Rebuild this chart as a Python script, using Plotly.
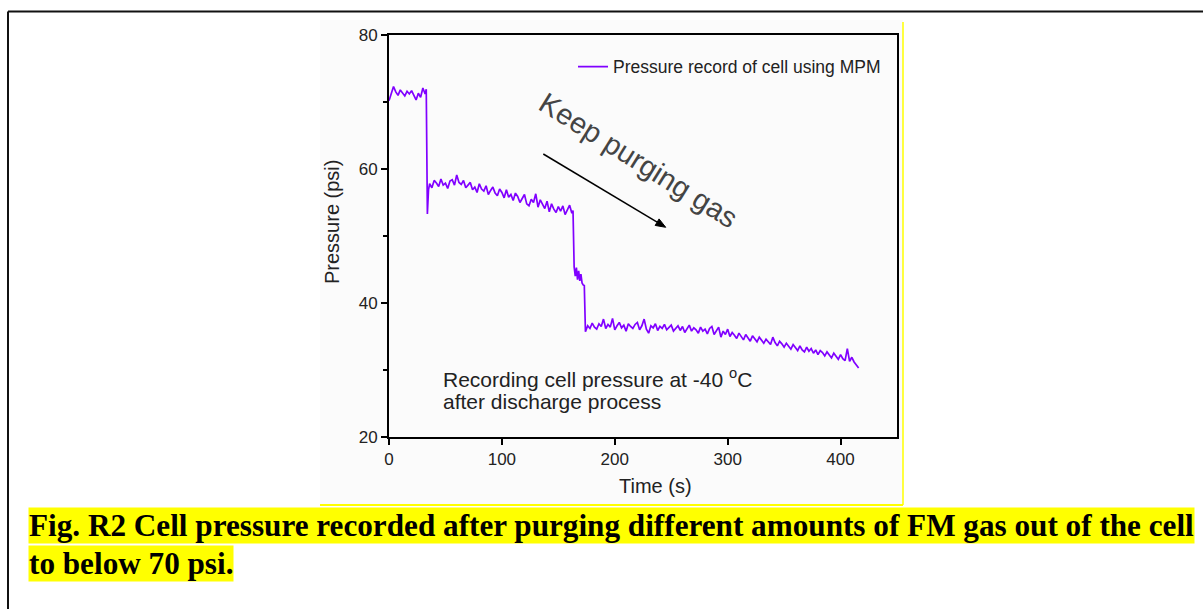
import math
import plotly.graph_objects as go

# ---------------- data ----------------
series_name = "Pressure record of cell using MPM"

# stage 1: before the first purge
s1_time = [0, 2, 4, 6, 8, 10, 12, 14, 16, 18, 20, 22, 24, 26, 28, 30, 32, 33]
s1_pres = [70.2, 71.3, 72.3, 71.5, 71.0, 71.8, 71.4, 70.9, 71.6, 71.2,
           71.7, 71.0, 70.3, 71.3, 70.7, 72.1, 71.2, 71.9]

# stage 2: after the first purge
s2_time = [34, 35, 36, 38, 40, 42, 44, 46, 48, 50,
           52, 54, 56, 58, 60, 62, 64, 66, 68, 70,
           72, 74, 76, 78, 80, 82, 84, 86, 88, 90,
           92, 94, 96, 98, 100, 102, 104, 106, 108, 110,
           112, 114, 116, 118, 120, 122, 124, 126, 128, 130,
           132, 134, 136, 138, 140, 142, 144, 146, 148, 150,
           152, 154, 156, 158, 160, 162, 163]
s2_pres = [53.3, 56.9, 57.8, 57.2, 58.3, 57.9, 57.4, 58.5, 57.6, 57.9,
           57.1, 58.2, 58.4, 57.6, 59.1, 58.0, 57.7, 58.3, 57.2, 57.6,
           58.0, 56.9, 57.3, 56.5, 57.8, 57.0, 56.7, 57.5, 56.2, 56.8,
           57.3, 56.4, 56.0, 57.0, 56.5, 55.7, 56.9, 55.8, 56.2, 55.3,
           56.4, 55.9, 55.0, 55.6, 56.2, 54.8, 54.5, 55.5, 55.0, 56.3,
           54.3, 55.4, 54.7, 54.1, 55.2, 53.6, 54.8, 54.0, 53.5, 54.4,
           53.7, 54.5, 53.2, 53.9, 54.6, 53.4, 53.8]

# short intermediate step during the second purge
sm_time = [164, 165, 166, 167, 168, 169, 170, 171, 172, 173]
sm_pres = [45.4, 44.0, 45.3, 43.5, 44.8, 43.3, 44.3, 43.0, 42.7, 42.6]

# stage 3: after the second purge
s3_time = [174, 175, 176, 178, 180, 182, 184, 186, 188, 190,
           192, 194, 196, 198, 200, 202, 204, 206, 208, 210,
           212, 214, 216, 218, 220, 222, 224, 226, 228, 230,
           232, 234, 236, 238, 240, 242, 244, 246, 248, 250,
           252, 254, 256, 258, 260, 262, 264, 266, 268, 270,
           272, 274, 276, 278, 280, 282, 284, 286, 288, 290,
           292, 294, 296, 298, 300, 302, 304, 306, 308, 310,
           312, 314, 316, 318, 320, 322, 324, 326, 328, 330,
           332, 334, 336, 338, 340, 342, 344, 346, 348, 350,
           352, 354, 356, 358, 360, 362, 364, 366, 368, 370,
           372, 374, 376, 378, 380, 382, 384, 386, 388, 390,
           392, 394, 396, 398, 400, 402, 404, 406, 408, 410,
           412, 414, 416]
s3_pres = [35.7, 36.3, 36.6, 36.2, 37.0, 36.4, 36.1, 36.9, 36.5, 37.6,
           36.2, 36.8, 36.4, 37.7, 36.0, 36.6, 37.1, 36.3, 36.7, 35.8,
           36.9, 36.5, 36.2, 36.8, 37.1, 36.0, 36.6, 37.6, 36.1, 35.5,
           36.6, 36.3, 36.9, 35.9, 36.5, 36.2, 36.8, 36.0, 36.4, 36.7,
           35.8, 36.3, 36.6, 35.9, 36.5, 35.6, 36.2, 36.7, 35.8, 36.3,
           36.0, 35.5, 36.4, 35.8, 36.1, 35.4, 36.2, 36.5, 35.3, 35.9,
           36.4, 34.9, 35.8, 35.3, 36.1, 35.0, 35.6, 35.2, 34.7, 35.5,
           35.0, 34.5, 35.3, 34.8, 34.3, 35.1, 34.6, 34.2, 34.9, 34.5,
           34.0, 34.6, 34.2, 33.8, 34.9, 34.1, 33.6, 34.3, 33.9, 33.4,
           34.0, 33.5, 33.1, 33.8, 33.3, 32.9, 33.6, 33.0, 32.7, 33.4,
           32.8, 33.2, 32.5, 33.0, 32.3, 32.9, 32.6, 32.1, 32.7, 32.2,
           31.8, 32.5, 32.0, 31.6, 32.3, 31.7, 31.4, 33.2, 31.3, 31.9,
           31.2, 30.8, 30.3]

x_ticks = [0, 100, 200, 300, 400]
y_ticks = [20, 40, 60, 80]
y_minor = [30, 50, 70]

time_s = s1_time + s2_time + sm_time + s3_time
pressure = s1_pres + s2_pres + sm_pres + s3_pres

# ---------------- layout helpers (pixel -> paper) ----------------
FIG_W, FIG_H = 1203, 609
L, R, T, B = 389, 897, 35, 437


def px(x):
    return (x - L) / (R - L)


def py(y):
    return (B - y) / (B - T)


SANS = "Liberation Sans, Arial, sans-serif"
SERIF = "Liberation Serif, Times New Roman, serif"

fig = go.Figure()
fig.add_trace(go.Scatter(
    x=time_s, y=pressure, mode="lines", name=series_name,
    line=dict(color="#8000FF", width=1.7),
))

axis_common = dict(
    showline=True, linecolor="black", linewidth=2, mirror=True,
    ticks="outside", ticklen=6, tickwidth=2, tickcolor="black",
    showgrid=False, zeroline=False,
    tickfont=dict(family=SANS, size=17, color="#222"),
)

fig.update_layout(
    width=FIG_W, height=FIG_H,
    margin=dict(l=L, r=FIG_W - R, t=T, b=FIG_H - B, pad=0),
    paper_bgcolor="white",
    plot_bgcolor="rgba(0,0,0,0)",
    xaxis=dict(range=[0, 450], tickvals=x_ticks, **axis_common),
    yaxis=dict(range=[20, 80], tickvals=y_ticks,
               minor=dict(tickvals=y_minor, ticks="outside", ticklen=4,
                          tickwidth=2, tickcolor="black", showgrid=False),
               **axis_common),
    showlegend=True,
    legend=dict(x=px(573), y=py(66.7), xanchor="left", yanchor="middle",
                bgcolor="rgba(0,0,0,0)", borderwidth=0,
                font=dict(family=SANS, size=17.5, color="#222")),
)

# arrow (tail -> tip, pixel positions of the decoration)
tail = (543.3, 154.0)
tip = (665.7, 227.3)
dx, dy = tip[0] - tail[0], tip[1] - tail[1]
ln = math.hypot(dx, dy)
ux, uy = dx / ln, dy / ln
head_len, head_half = 10.0, 3.8
bx, by = tip[0] - head_len * ux, tip[1] - head_len * uy
p1 = (bx - head_half * uy, by + head_half * ux)
p2 = (bx + head_half * uy, by - head_half * ux)
head_path = "M {:.5f} {:.5f} L {:.5f} {:.5f} L {:.5f} {:.5f} Z".format(
    px(tip[0]), py(tip[1]), px(p1[0]), py(p1[1]), px(p2[0]), py(p2[1]))

shapes = [
    # light background of the embedded figure image
    dict(type="rect", xref="paper", yref="paper", layer="below",
         x0=px(320), x1=px(903), y0=py(505), y1=py(20),
         fillcolor="#fbfbfb", line=dict(width=0)),
    # thin yellow highlight edges
    dict(type="line", xref="paper", yref="paper",
         x0=px(903), x1=px(903), y0=py(22), y1=py(505),
         line=dict(color="#FFFF00", width=1.5)),
    dict(type="line", xref="paper", yref="paper",
         x0=px(320), x1=px(903), y0=py(505), y1=py(505),
         line=dict(color="#FFFF00", width=2)),
    # outer page border
    dict(type="line", xref="paper", yref="paper",
         x0=px(8), x1=px(1210), y0=py(11.5), y1=py(11.5),
         line=dict(color="#111", width=2)),
    dict(type="line", xref="paper", yref="paper",
         x0=px(8), x1=px(8), y0=py(11.5), y1=py(620),
         line=dict(color="#111", width=2)),
    # arrow shaft and head
    dict(type="line", xref="paper", yref="paper",
         x0=px(tail[0]), y0=py(tail[1]), x1=px(bx), y1=py(by),
         line=dict(color="black", width=1.5)),
    dict(type="path", xref="paper", yref="paper", path=head_path,
         fillcolor="black", line=dict(color="black", width=1)),
]
fig.update_layout(shapes=shapes)

annotations = [
    # axis titles
    dict(text="Time (s)", xref="paper", yref="paper", x=px(655), y=py(486),
         xanchor="center", yanchor="middle", showarrow=False,
         font=dict(family=SANS, size=20, color="#222")),
    dict(text="Pressure (psi)", xref="paper", yref="paper", x=px(332), y=py(222),
         xanchor="center", yanchor="middle", showarrow=False, textangle=-90,
         font=dict(family=SANS, size=20, color="#222")),
    # rotated label
    dict(text="Keep purging gas", xref="paper", yref="paper", x=px(638), y=py(160),
         xanchor="center", yanchor="middle", showarrow=False, textangle=32,
         font=dict(family=SANS, size=29, color="#444")),
    # note (two lines)
    dict(text="Recording cell pressure at -40 <sup>o</sup>C",
         xref="paper", yref="paper", x=px(441), y=py(378),
         xanchor="left", yanchor="middle", align="left", showarrow=False,
         font=dict(family=SANS, size=21, color="#222")),
    dict(text="after discharge process",
         xref="paper", yref="paper", x=px(441), y=py(401),
         xanchor="left", yanchor="middle", align="left", showarrow=False,
         font=dict(family=SANS, size=21, color="#222")),
    # caption (highlighted)
    dict(text="Fig. R2 Cell pressure recorded after purging different amounts of FM gas out of the cell",
         xref="paper", yref="paper", x=px(28), y=py(525),
         xanchor="left", yanchor="middle", showarrow=False,
         bgcolor="#FFFF00", borderpad=0,
         font=dict(family=SERIF, size=31.2, color="black", weight="bold")),
    dict(text="to below 70 psi.",
         xref="paper", yref="paper", x=px(28), y=py(563.5),
         xanchor="left", yanchor="middle", showarrow=False,
         bgcolor="#FFFF00", borderpad=0,
         font=dict(family=SERIF, size=31.2, color="black", weight="bold")),
]
fig.update_layout(annotations=annotations)

fig.write_html("out.html")
